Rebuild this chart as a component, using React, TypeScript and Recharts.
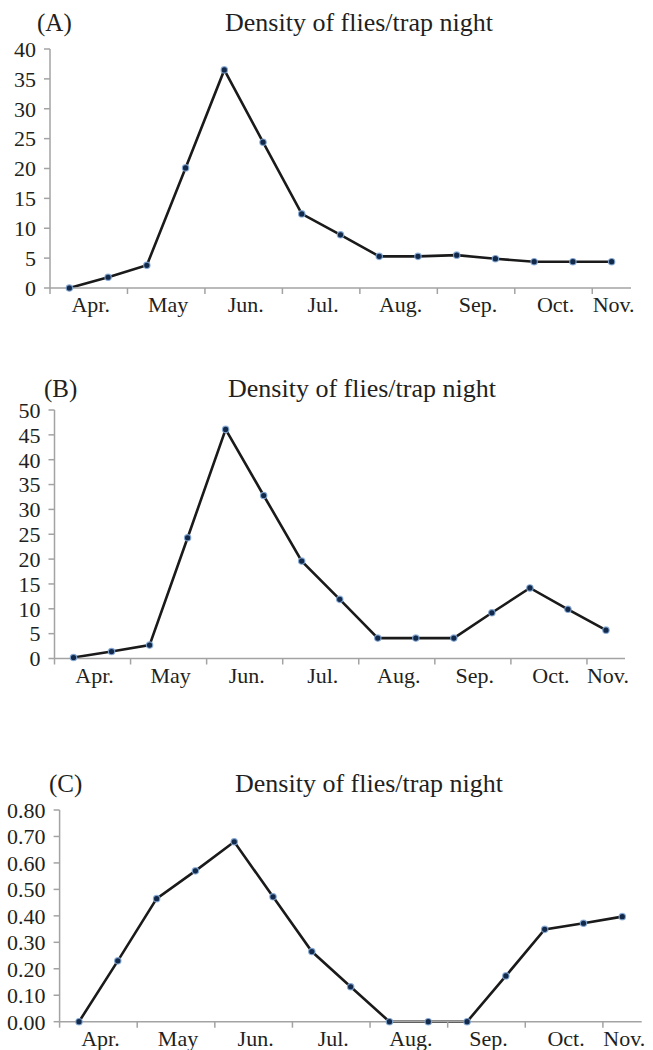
import { LineChart, Line, XAxis, YAxis } from 'recharts'

// 15 trap nights, Apr. to Nov.
const months = ['Apr.', 'May', 'Jun.', 'Jul.', 'Aug.', 'Sep.', 'Oct.', 'Nov.']
const densityA = [0, 1.8, 3.8, 20.1, 36.5, 24.4, 12.4, 8.9, 5.3, 5.3, 5.5, 4.9, 4.4, 4.4, 4.4]
const densityB = [0.2, 1.4, 2.7, 24.3, 46.1, 32.8, 19.6, 11.9, 4.1, 4.1, 4.1, 9.2, 14.2, 9.9, 5.7]
const densityC = [0, 0.23, 0.465, 0.57, 0.68, 0.472, 0.265, 0.132, 0, 0, 0, 0.173, 0.349, 0.372, 0.397]
const ticksA = [0, 5, 10, 15, 20, 25, 30, 35, 40]
const ticksB = [0, 5, 10, 15, 20, 25, 30, 35, 40, 45, 50]
const ticksC = [0, 0.1, 0.2, 0.3, 0.4, 0.5, 0.6, 0.7, 0.8]

const N = densityA.length
const markPos = months.map((_, k) => 2 * k)
const labelPos = months.map((_, k) => (2 * k + Math.min(2 * k + 2, N)) / 2)
const xTicks = [...new Set([...markPos, ...labelPos])].sort((a, b) => a - b)

const AXIS = '#a3a3a3'
const INK = '#231f20'
const FONT = '"Liberation Serif", "Times New Roman", serif'

const XTick = ({ x, y, payload }: any) => {
  const v = payload.value
  const idx = labelPos.indexOf(v)
  return (
    <g>
      {markPos.includes(v) && <line x1={x} x2={x} y1={y} y2={y + 6} stroke={AXIS} strokeWidth={1.5} />}
      {idx >= 0 && (
        <text x={x + 2} y={y + 24} textAnchor="middle" fill={INK} fontSize={22} fontFamily={FONT}>
          {months[idx]}
        </text>
      )}
    </g>
  )
}

const Dot = (p: any) => (
  <circle key={`d${p.index}`} cx={p.cx} cy={p.cy} r={3.2} fill="#13294a" stroke="#86acd9" strokeWidth={1.2} strokeOpacity={0.85} />
)

interface PanelProps {
  top: number; height: number
  axisX: number; axisEnd: number; plotTop: number; plotBottom: number
  values: number[]; ticks: number[]; digits: number
}

function Panel({ top, height, axisX, axisEnd, plotTop, plotBottom, values, ticks, digits }: PanelProps) {
  const data = values.map((v, i) => ({ x: i + 0.5, v }))
  const xH = 28
  return (
    <div style={{ position: 'absolute', left: 0, top, width: 653, height }}>
      <LineChart
        width={653}
        height={height}
        data={data}
        margin={{ top: plotTop - top, right: 653 - axisEnd, bottom: height - xH - (plotBottom - top), left: 0 }}
      >
        <XAxis
          type="number"
          dataKey="x"
          domain={[0, N]}
          ticks={xTicks}
          interval={0}
          tick={<XTick />}
          tickLine={false}
          tickSize={0}
          tickMargin={0}
          height={xH}
          axisLine={{ stroke: AXIS, strokeWidth: 1.5 }}
        />
        <YAxis
          type="number"
          domain={[ticks[0], ticks[ticks.length - 1]]}
          ticks={ticks}
          interval={0}
          width={axisX}
          tickFormatter={(v: number) => v.toFixed(digits)}
          tick={{ fill: INK, fontSize: 22, fontFamily: FONT }}
          tickSize={6}
          tickMargin={8}
          tickLine={{ stroke: AXIS, strokeWidth: 1.5 }}
          axisLine={{ stroke: AXIS, strokeWidth: 1.5 }}
        />
        <Line
          type="linear"
          dataKey="v"
          stroke="#1a1a1a"
          strokeWidth={2.6}
          dot={Dot}
          activeDot={false}
          isAnimationActive={false}
        />
      </LineChart>
    </div>
  )
}

const titles = [
  { tag: '(A)', tagX: 37, titleX: 359, base: 31 },
  { tag: '(B)', tagX: 44, titleX: 362, base: 397 },
  { tag: '(C)', tagX: 49, titleX: 369, base: 792 },
]

export default function App() {
  return (
    <div style={{ position: 'absolute', left: 0, top: 0, width: 653, height: 1050, background: '#fff' }}>
      <Panel top={0} height={330} axisX={50} axisEnd={631} plotTop={49} plotBottom={288} values={densityA} ticks={ticksA} digits={0} />
      <Panel top={340} height={350} axisX={54.5} axisEnd={625} plotTop={410} plotBottom={658.5} values={densityB} ticks={ticksB} digits={0} />
      <Panel top={700} height={350} axisX={59.6} axisEnd={641.7} plotTop={810} plotBottom={1021.7} values={densityC} ticks={ticksC} digits={2} />
      <svg width={653} height={1050} style={{ position: 'absolute', left: 0, top: 0, pointerEvents: 'none' }}>
        {titles.map(t => (
          <g key={t.tag} fill={INK} fontFamily={FONT}>
            <text x={t.tagX} y={t.base} fontSize={25}>{t.tag}</text>
            <text x={t.titleX} y={t.base} fontSize={26} textAnchor="middle">Density of flies/trap night</text>
          </g>
        ))}
      </svg>
    </div>
  )
}
